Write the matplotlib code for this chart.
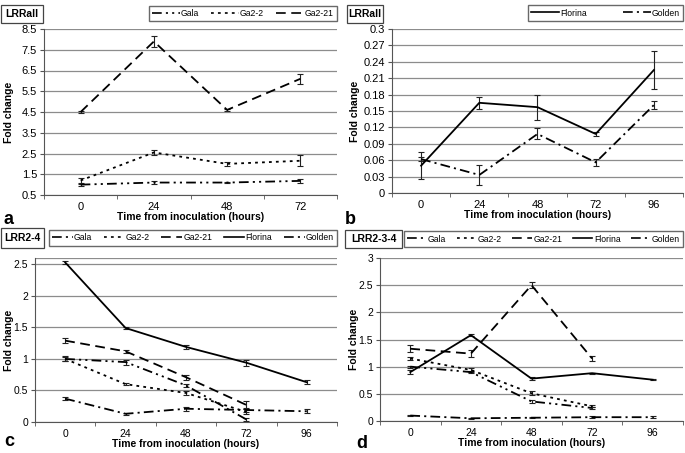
import matplotlib
matplotlib.use("Agg")
import matplotlib.pyplot as plt
from matplotlib.patches import Rectangle
from matplotlib.lines import Line2D
import numpy as np

plt.rcParams['font.family'] = ['Liberation Sans', 'DejaVu Sans']
plt.rcParams['lines.scale_dashes'] = False

times4 = ['0', '24', '48', '72']
times5 = ['0', '24', '48', '72', '96']

# Panel a (LRRall)
a_gala = [1.0, 1.1, 1.1, 1.18]
a_gala_err = [0.05, 0.08, 0.04, 0.08]
a_ga22 = [1.2, 2.55, 2.0, 2.15]
a_ga22_err = [0.12, 0.1, 0.1, 0.27]
a_ga221 = [4.5, 7.9, 4.6, 6.1]
a_ga221_err = [0.04, 0.25, 0.05, 0.25]

# Panel b (LRRall)
b_florina = [0.05, 0.165, 0.157, 0.108, 0.225]
b_florina_err = [0.025, 0.011, 0.023, 0.003, 0.035]
b_golden = [0.062, 0.033, 0.108, 0.056, 0.161]
b_golden_err = [0.004, 0.018, 0.01, 0.006, 0.008]

# Panel c (LRR2-4)
c_gala = [1.0, 0.95, 0.58, 0.04]
c_gala_err = [0.03, 0.04, 0.02, 0.02]
c_ga22 = [1.0, 0.6, 0.46, 0.16]
c_ga22_err = [0.04, 0.02, 0.03, 0.04]
c_ga221 = [1.29, 1.12, 0.71, 0.27]
c_ga221_err = [0.04, 0.02, 0.04, 0.06]
c_florina = [2.53, 1.49, 1.19, 0.94, 0.63]
c_florina_err = [0.03, 0.02, 0.03, 0.05, 0.03]
c_golden = [0.37, 0.13, 0.21, 0.19, 0.17]
c_golden_err = [0.02, 0.02, 0.03, 0.03, 0.03]

# Panel d (LRR2-3-4)
d_gala = [1.0, 0.9, 0.36, 0.24]
d_gala_err = [0.02, 0.02, 0.02, 0.02]
d_ga22 = [1.15, 0.94, 0.51, 0.27]
d_ga22_err = [0.03, 0.03, 0.04, 0.02]
d_ga221 = [1.33, 1.24, 2.5, 1.15]
d_ga221_err = [0.06, 0.06, 0.06, 0.05]
d_florina = [0.9, 1.58, 0.78, 0.88, 0.76]
d_florina_err = [0.03, 0.02, 0.03, 0.01, 0.01]
d_golden = [0.1, 0.05, 0.06, 0.07, 0.07]
d_golden_err = [0.01, 0.01, 0.01, 0.02, 0.02]

styles = {
    'Gala': (0, (7, 3, 1.5, 3, 1.5, 3)),
    'Ga2-2': (0, (2, 3)),
    'Ga2-21': (0, (7, 4)),
    'Florina': '-',
    'Golden': (0, (7, 3, 1.5, 3)),
}

W, H = 685, 453
fig = plt.figure(figsize=(6.85, 4.53), dpi=100)


def px_axes(l, r, t, b):
    return fig.add_axes([l / W, 1 - b / H, (r - l) / W, (b - t) / H])


def setup(ax, ncat, ylim, yticks, yfmt, fs, ylab_x, l, r, t, b):
    ax.set_xlim(-0.5, ncat - 0.5)
    ax.set_ylim(*ylim)
    ax.set_yticks(yticks)
    ax.set_yticklabels([yfmt(v) for v in yticks])
    ax.yaxis.grid(True, color='#8c8c8c', linewidth=0.9)
    ax.set_axisbelow(True)
    for s in ['top', 'right']:
        ax.spines[s].set_visible(False)
    ax.spines['left'].set_color('#555555')
    ax.spines['bottom'].set_color('#555555')
    ax.set_xticks(range(ncat))
    ax.set_xticklabels(times5[:ncat])
    ax.set_xticks(np.arange(-0.5, ncat, 1.0), minor=True)
    ax.tick_params(axis='x', which='major', length=0, labelsize=fs, pad=5)
    ax.tick_params(axis='x', which='minor', length=3, color='#555555')
    ax.tick_params(axis='y', length=3, labelsize=fs, color='#555555', pad=2)
    ax.set_ylabel('Fold change', fontsize=7.5, fontweight='bold')
    ax.yaxis.set_label_coords((ylab_x - l) / (r - l), 0.5)
    ax.set_xlabel('Time from inoculation (hours)', fontsize=7.5, fontweight='bold', labelpad=0)


def series(ax, name, vals, errs):
    x = np.arange(len(vals))
    ax.errorbar(x, vals, yerr=errs, color='black', linewidth=1.3, linestyle=styles[name],
                elinewidth=0.8, ecolor='#222222', capsize=2.2, capthick=0.8)


def title_box(text, l, r, t, b):
    fig.patches.append(Rectangle((l / W, 1 - b / H), (r - l) / W, (b - t) / H,
                                 transform=fig.transFigure, fill=False,
                                 edgecolor='#444444', linewidth=0.9))
    fig.text((l + r) / 2 / W, 1 - (t + b) / 2 / H, text, ha='center', va='center',
             fontsize=7.5, fontweight='bold')


def legend_box(names, l, r, t, b, hl, cs):
    handles = [Line2D([], [], color='black', linewidth=1.2, linestyle=styles[n]) for n in names]
    fig.legend(handles, names, loc='center', bbox_to_anchor=(l / W, 1 - b / H, (r - l) / W, (b - t) / H),
               mode='expand', ncol=len(names), fontsize=6.2, frameon=True, fancybox=False,
               edgecolor='#444444', handlelength=hl, handletextpad=0.15, columnspacing=cs,
               borderpad=0.35, borderaxespad=0)


# Panel a
l, r, t, b = 44, 337, 29, 195
ax = px_axes(l, r, t, b)
setup(ax, 4, (0.5, 8.5), np.arange(0.5, 8.6, 1.0), lambda v: f'{v:.1f}', 8, 14, l, r, t, b)
series(ax, 'Ga2-21', a_ga221, a_ga221_err)
series(ax, 'Ga2-2', a_ga22, a_ga22_err)
series(ax, 'Gala', a_gala, a_gala_err)
title_box('LRRall', 1, 43, 5, 23)
legend_box(['Gala', 'Ga2-2', 'Ga2-21'], 149, 337, 2, 25, 3.2, 0.6)
fig.text(4 / W, 1 - 219 / H, 'a', fontsize=13, fontweight='bold', va='center')

# Panel b
l, r, t, b = 392, 683, 29, 193
ax = px_axes(l, r, t, b)
setup(ax, 5, (0, 0.3), np.arange(0, 0.301, 0.03),
      lambda v: '0' if v == 0 else (f'{v:.2f}'.rstrip('0') if v < 0.299 else '0.3'), 8, 360, l, r, t, b)
series(ax, 'Florina', b_florina, b_florina_err)
series(ax, 'Golden', b_golden, b_golden_err)
title_box('LRRall', 347, 383, 5, 23)
legend_box(['Florina', 'Golden'], 528, 683, 2, 24, 3.2, 0.6)
fig.text(345 / W, 1 - 219 / H, 'b', fontsize=13, fontweight='bold', va='center')

# Panel c
l, r, t, b = 35, 337, 258, 422
ax = px_axes(l, r, t, b)
setup(ax, 5, (0, 2.6), [0, 0.5, 1, 1.5, 2, 2.5], lambda v: f'{v:g}', 7.5, 14, l, r, t, b)
ax.axhline(2.6, color='#8c8c8c', linewidth=0.9)
series(ax, 'Gala', c_gala, c_gala_err)
series(ax, 'Ga2-2', c_ga22, c_ga22_err)
series(ax, 'Ga2-21', c_ga221, c_ga221_err)
series(ax, 'Florina', c_florina, c_florina_err)
series(ax, 'Golden', c_golden, c_golden_err)
title_box('LRR2-4', 1, 44, 228, 248)
legend_box(['Gala', 'Ga2-2', 'Ga2-21', 'Florina', 'Golden'], 49, 337, 228, 248, 2.4, 0.35)
fig.text(4 / W, 1 - 442 / H, 'c', fontsize=13, fontweight='bold', va='center')

# Panel d
l, r, t, b = 380, 683, 258, 421
ax = px_axes(l, r, t, b)
setup(ax, 5, (0, 3), [0, 0.5, 1, 1.5, 2, 2.5, 3], lambda v: f'{v:g}', 7.5, 359, l, r, t, b)
series(ax, 'Gala', d_gala, d_gala_err)
series(ax, 'Ga2-2', d_ga22, d_ga22_err)
series(ax, 'Ga2-21', d_ga221, d_ga221_err)
series(ax, 'Florina', d_florina, d_florina_err)
series(ax, 'Golden', d_golden, d_golden_err)
title_box('LRR2-3-4', 345, 402, 230, 248)
legend_box(['Gala', 'Ga2-2', 'Ga2-21', 'Florina', 'Golden'], 404, 683, 230, 248, 2.3, 0.3)
fig.text(356 / W, 1 - 443 / H, 'd', fontsize=13, fontweight='bold', va='center')

fig.savefig('out.png', dpi=100)
